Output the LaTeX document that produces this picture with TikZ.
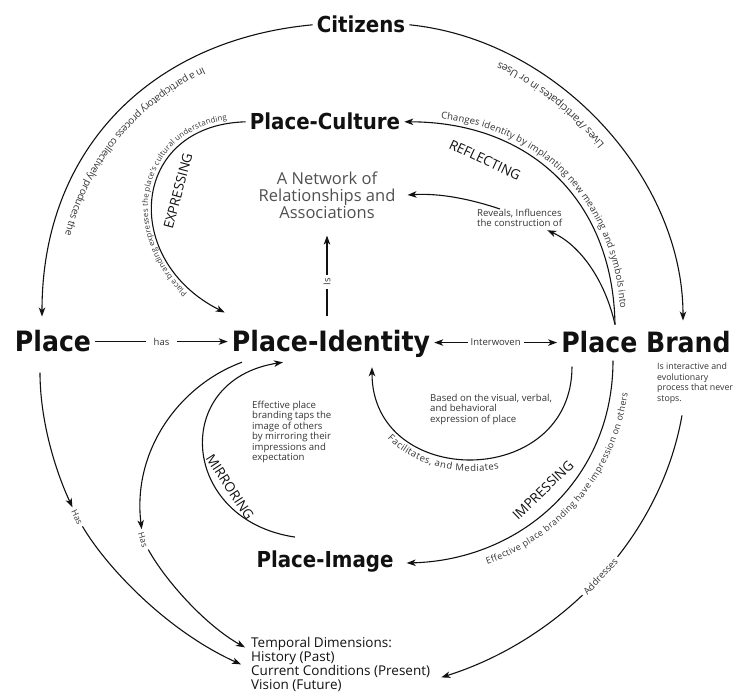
\documentclass[tikz,border=0pt]{standalone}
\usepackage{fontspec}
\setmainfont{Open Sans}
\newfontfamily\hfam{DejaVu Sans Condensed Bold}
\usetikzlibrary{arrows.meta,decorations.text}
\definecolor{ink}{HTML}{111111}
\definecolor{txt}{HTML}{333333}
\definecolor{netc}{HTML}{505050}
\newcommand\myfs[2]{\fontsize{#1}{#2}\selectfont}
\newcommand\fsA{\fontsize{7.8}{7.8}\selectfont}
\newcommand\fsB{\fontsize{9}{9}\selectfont}
\newcommand\fsC{\fontsize{9.5}{9.5}\selectfont}
\newcommand\fsD{\fontsize{10}{10}\selectfont}
\newcommand\fsE{\fontsize{10.5}{10.5}\selectfont}
\begin{document}
\begin{tikzpicture}[x=1pt,y=-1pt,
  conn/.style={line width=1.1pt,draw=ink},
  arr/.style={conn,-{Stealth[length=9pt,width=6.5pt,inset=2.5pt]}},
  arrboth/.style={conn,{Stealth[length=9pt,width=6.5pt,inset=2.5pt]}-{Stealth[length=9pt,width=6.5pt,inset=2.5pt]}},
  head/.style={font=\hfam\myfs{#1}{#1}, inner sep=4pt, anchor=base, text=ink},
  caps/.style={font=\myfs{13.5}{13.5}, text=ink, inner sep=0pt},
  gap/.style={fill=white, inner sep=3pt, font=\myfs{9.5}{9.5}, text=txt},
  blk/.style={font=\myfs{#1}{10.4}, text=txt, align=left, inner sep=0pt, anchor=north west}
]
\useasboundingbox (0,0) rectangle (740,695);

% main nodes
\node[head=22] (cit) at (361,33) {Citizens};
\node[head=22] (cul) at (325,130) {Place-Culture};
\node[head=28] (place) at (53,352) {Place};
\node[head=28] (pid) at (331,352) {Place-Identity};
\node[head=28] (brand) at (646,353) {Place Brand};
\node[head=22] (img) at (325,567) {Place-Image};
\node[font=\myfs{16.5}{17}, text=netc, align=center, inner sep=0pt] (net) at (327,195) {A Network of\\Relationships and\\Associations};
\node[font=\myfs{13.5}{14}, text=ink, align=left, inner sep=0pt, anchor=north west] (temp) at (251,637) {Temporal Dimensions:\\History (Past)\\Current Conditions (Present)\\Vision (Future)};

% text blocks
\node[blk=9.6] (rev) at (477,209) {Reveals, Influences\\the construction of};
\node[blk=8.8] (isi) at (657,363) {Is interactive and\\evolutionary\\process that never\\stops.};
\node[blk=9.6] (based) at (430,394) {Based on the visual, verbal,\\and behavioral\\expression of place};
\node[blk=9.6] (eff) at (252,401) {Effective place\\branding taps the\\image of others\\by mirroring their\\impressions and\\expectation};

% capital labels
\node[caps, rotate=75] (expr) at (178,191) {EXPRESSING};
\node[caps, rotate=-25] (refl) at (485,160) {REFLECTING};
\node[caps, rotate=44] (impr) at (543,490) {IMPRESSING};
\node[caps, rotate=-57] (mirr) at (230,487) {MIRRORING};

% Has labels
\node[gap, fill=none, font=\myfs{8.5}{8.5}, rotate=-65] (has1) at (77,517) {Has};
\node[gap, fill=none, font=\myfs{8.5}{8.5}, rotate=-72] (has2) at (143,540) {Has};

% straight connectors
\draw[arr] (place.east) -- node[gap, inner xsep=8pt]{has} (place.east -| pid.west);
\draw[arrboth] (brand.west -| pid.east) -- node[gap]{Interwoven} (brand.west);
\draw[arr] ([shift={(-4pt,11pt)}]pid.north) -- node[gap, rotate=90, pos=0.42]{Is} ([yshift=-17pt]net.south);

% outer left arc: Citizens -> Place
\draw[arr] (cit.west) .. controls (150,40) and (42,150) .. ([shift={(-11pt,10pt)}]place.north);
\path[decorate, decoration={text along path, text color=txt, raise=13pt, text align={left indent=120pt},
  text={|\fsD|In a participatory process collectively produces the}}]
  (313,25) .. controls (150,40) and (42,150) .. (42,317);

% outer right arc: Citizens -> Place Brand
\draw[arr] (cit.east) .. controls (560,40) and (683,180) .. ([shift={(37pt,7pt)}]brand.north);
\path[decorate, decoration={text along path, text color=txt, raise=11pt, text align={left indent=200pt},
  text={|\fsE|Lives /Participates in or Uses}}]
  (683,321) .. controls (683,180) and (560,40) .. (409,25);

% Place-Culture -> Place-Identity
\draw[arr] (cul.west) .. controls (130,125) and (120,260) .. ([shift={(-3pt,14pt)}]pid.north west);
\path[decorate, decoration={text along path, text color=txt, raise=4pt, text align={left indent=40pt},
  text={|\fsA|Place branding expresses the place's cultural understanding}}]
  (223,313) .. controls (120,260) and (130,125) .. (246,122);

% Place Brand -> Place-Culture
\draw[arr] ([shift={(-31pt,3pt)}]brand.north) .. controls (613,200) and (530,122) .. (cul.east);
\path[decorate, decoration={text along path, text color=txt, raise=6pt, text align={left indent=36pt},
  text={|\fsC|Changes identity by implanting new meaning and symbols into}}]
  (404,122) .. controls (530,122) and (613,200) .. (615,325);

% Place Brand -> Reveals -> Network
\draw[arr] ([shift={(-31pt,3pt)}]brand.north) .. controls (605,280) and (580,245) .. ([shift={(-15pt,-3pt)}]rev.south east);
\draw[arr] ([xshift=23pt]rev.north west) .. controls (470,199) and (440,193) .. ([xshift=12pt]net.east);

% Place Brand -> Place-Identity (Facilitates)
\draw[arr] ([shift={(-74pt,-9pt)}]brand.south) .. controls (572,490) and (372,490) .. ([shift={(41pt,-5pt)}]pid.south);
\path[decorate, decoration={text along path, text color=txt, raise=-12pt, text align={left indent=68pt},
  text={|\fsC|Facilitates, and Mediates}}]
  (372,368) .. controls (372,490) and (572,490) .. (572,366);

% Place Brand -> Place-Image (Impressing)
\draw[arr] ([shift={(-33pt,-3pt)}]brand.south) .. controls (613,480) and (520,560) .. ([shift={(9pt,-2pt)}]img.east);
\path[decorate, decoration={text along path, text color=txt, raise=-17pt, text align={left indent=78pt},
  text={|\fsB|Effective place branding have impression on others}}]
  (405,563) .. controls (520,560) and (613,480) .. (613,360);

% Place-Image -> Place-Identity (Mirroring)
\draw[arr] ([shift={(-30pt,9pt)}]img.north) .. controls (180,520) and (170,380) .. ([xshift=-48pt]pid.south);

% Addresses
\draw[arr] ([shift={(25pt,-12pt)}]isi.south west) .. controls (660,540) and (560,640) ..
  node[gap, sloped, pos=0.49]{Addresses} ([shift={(11pt,-13pt)}]temp.east);

% Has connectors
\draw[arr] ([shift={(-13pt,-16pt)}]place.south) .. controls (40,420) and (55,470) .. (has1);
\draw[arr] (has1) .. controls (105,565) and (165,630) .. ([xshift=-10pt]temp.west);
\draw[arr] ([xshift=-89pt]pid.south) .. controls (180,385) and (132,450) .. (has2);
\draw[arr] (has2) .. controls (165,580) and (205,625) .. ([shift={(-6pt,17pt)}]temp.west);
\end{tikzpicture}
\end{document}
